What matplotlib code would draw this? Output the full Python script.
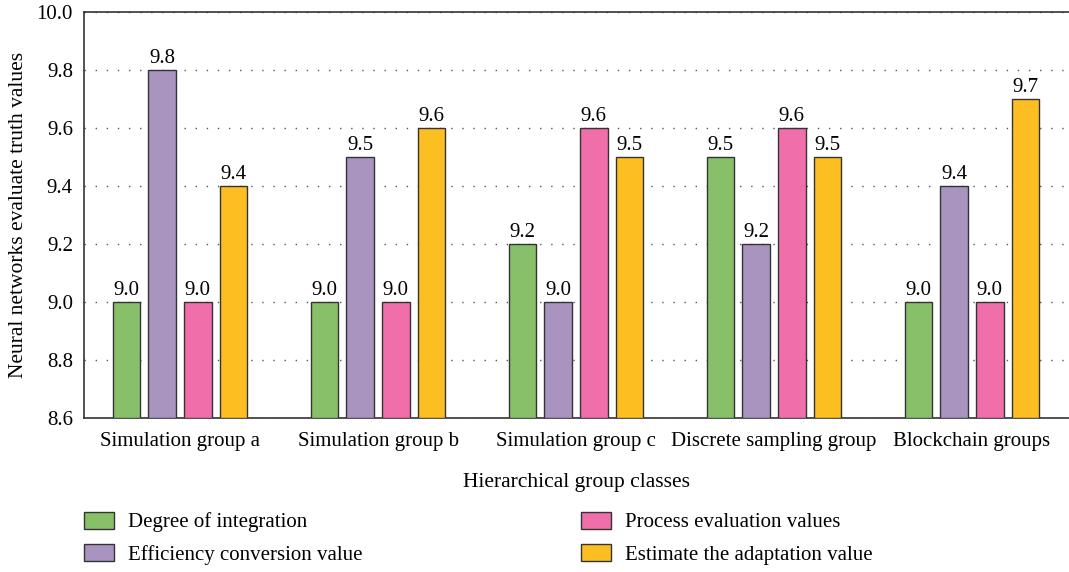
import numpy as np
import matplotlib
matplotlib.use('Agg')
import matplotlib.pyplot as plt
from matplotlib.patches import Patch

plt.rcParams['font.family'] = 'Liberation Serif'

# ── data ──────────────────────────────────────────────────────────────
groups = ["Simulation group a", "Simulation group b", "Simulation group c",
          "Discrete sampling group", "Blockchain groups"]
series_names = ["Degree of integration", "Efficiency conversion value",
                "Process evaluation values", "Estimate the adaptation value"]
degree_integration = [9.0, 9.0, 9.2, 9.5, 9.0]
efficiency_conversion = [9.8, 9.5, 9.0, 9.2, 9.4]
process_evaluation = [9.0, 9.0, 9.6, 9.6, 9.0]
estimate_adaptation = [9.4, 9.6, 9.5, 9.5, 9.7]
colors = ["#88c06a", "#a994c0", "#f06ea9", "#fdbe22"]

# ── plot ──────────────────────────────────────────────────────────────
fig = plt.figure(figsize=(10.69, 5.72), dpi=100)
ax = fig.add_axes([84 / 1069, 1 - 418 / 572, 1 - 84 / 1069, 406 / 572])

x = np.arange(len(groups))
width = 0.14
offsets = [-0.27, -0.09, 0.09, 0.27]
all_series = [degree_integration, efficiency_conversion, process_evaluation, estimate_adaptation]

for vals, off, col in zip(all_series, offsets, colors):
    ax.bar(x + off, np.array(vals) - 8.6, width, bottom=8.6, color=col,
           edgecolor="#333333", linewidth=1.0, zorder=3)
    for xi, v in zip(x + off, vals):
        ax.text(xi, v + 0.006, f"{v:.1f}", ha="center", va="bottom", fontsize=15, zorder=4)

ticks = [8.6, 8.8, 9.0, 9.2, 9.4, 9.6, 9.8, 10.0]
ax.set_ylim(8.6, 10.0)
ax.set_xlim(-0.485, 4.49)
ax.set_yticks(ticks)
ax.set_yticklabels([f"{t:.1f}" for t in ticks])
ax.set_xticks(x)
ax.set_xticklabels(groups)
ax.tick_params(axis="y", length=0, labelsize=15, pad=8)
ax.tick_params(axis="x", length=0, labelsize=15, pad=10)
ax.yaxis.grid(True, linestyle=(0, (1, 7)), color="#555555", linewidth=1.0, zorder=0)
ax.spines["right"].set_visible(False)
for s in ["left", "top", "bottom"]:
    ax.spines[s].set_color("#333333")
    ax.spines[s].set_linewidth(1.2)

ax.set_xlabel("Hierarchical group classes", fontsize=15.5, labelpad=16)
ax.set_ylabel("Neural networks evaluate truth values", fontsize=15.5, labelpad=6)

handles = [Patch(facecolor=c, edgecolor="#333333", label=n) for c, n in zip(colors, series_names)]
fig.legend(handles=handles, loc="lower left", bbox_to_anchor=(0.061, -0.02), ncol=2,
           frameon=False, fontsize=15, handlelength=1.45, handleheight=0.9,
           handletextpad=0.65, columnspacing=10.5, labelspacing=0.55)

plt.savefig("out.png", dpi=100)
